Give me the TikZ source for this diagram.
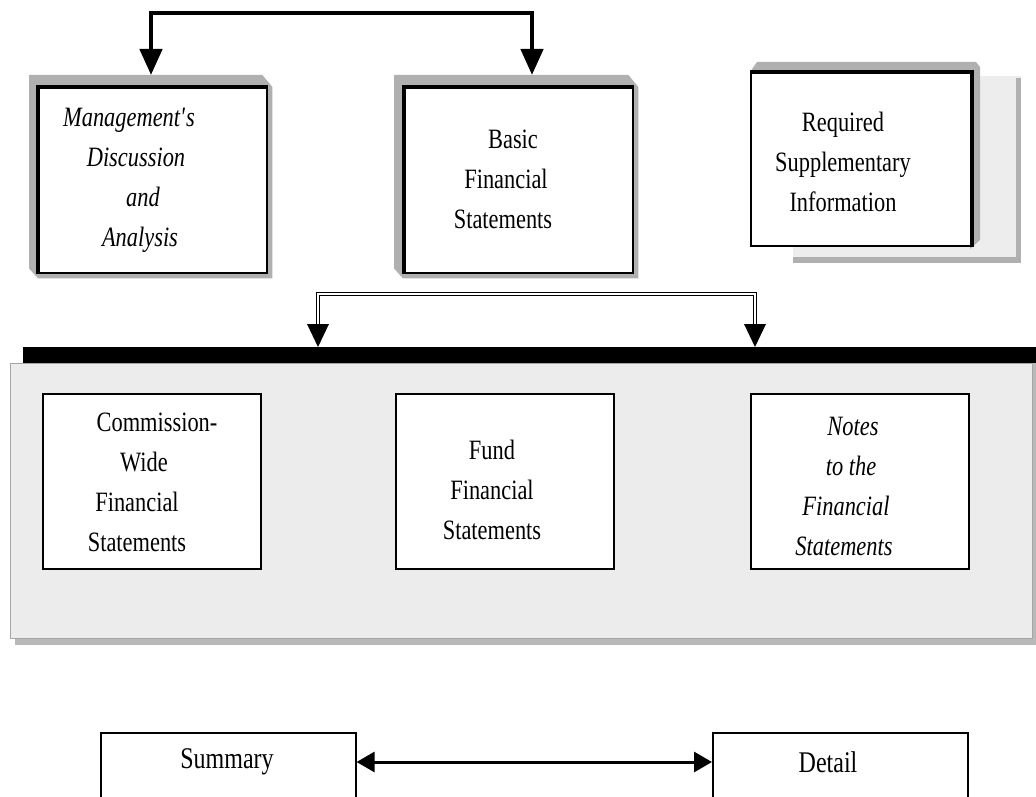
\documentclass[tikz,border=0pt]{standalone}
\usepackage{fontspec}
\setmainfont{Liberation Serif}[FakeStretch=0.8]
\usetikzlibrary{arrows.meta,calc}
\begin{document}
\begin{tikzpicture}[x=1pt,y=-1pt,
  bevel/.style={fill=gray!62},
  shadowlight/.style={fill=gray!14},
  plainbox/.style={draw=black,line width=1.6pt,fill=white,inner sep=0pt,anchor=north west},
  hidden/.style={inner sep=0pt,anchor=north west},
  txt/.style={align=center,inner sep=0pt,font=\fontsize{28}{40}\selectfont},
  itxt/.style={align=center,inner sep=0pt,font=\fontsize{28}{40}\selectfont\itshape},
  btxt/.style={align=center,inner sep=0pt,font=\fontsize{30}{36}\selectfont},
  heavy/.style={line width=4.5pt},
  dbl/.style={draw=black,double=white,double distance=2.4pt,line width=0.9pt},
  bigtip/.style={{Triangle[width=22pt,length=26pt]}-{Triangle[width=22pt,length=26pt]}},
  midtip/.style={{Triangle[width=20pt,length=18pt]}-{Triangle[width=20pt,length=18pt]}},
]
\useasboundingbox (0,0) rectangle (1036,797);
\begin{scope}
\clip (0,0) rectangle (1036,797);

% Management's Discussion and Analysis
\node[hidden,minimum width=243pt,minimum height=203pt] (mdaf) at (29,75) {};
\fill[bevel] (mdaf.north west) -- ($(mdaf.north east)+(-10,0)$) -- ($(mdaf.north east)+(0,12)$) -- (mdaf.south east) -- ($(mdaf.south west)+(9,0)$) -- ($(mdaf.south west)+(0,-10)$) -- cycle;
\node[plainbox,minimum width=228pt,minimum height=185pt] (mda) at (38,87) {};
\draw[line width=4pt] (mda.south west) -- (mda.north west) -- (mda.north east);
\node[itxt] (mdat) at (129,180) {Management\textquotesingle s\\\hspace*{14pt}Discussion\\\hspace*{28pt}and\\\hspace*{22pt}Analysis};

% Basic Financial Statements
\node[hidden,minimum width=244pt,minimum height=203pt] (basf) at (394,75) {};
\fill[bevel] (basf.north west) -- ($(basf.north east)+(-10,0)$) -- ($(basf.north east)+(0,12)$) -- (basf.south east) -- ($(basf.south west)+(9,0)$) -- ($(basf.south west)+(0,-10)$) -- cycle;
\node[plainbox,minimum width=228pt,minimum height=185pt] (bas) at (404,87) {};
\draw[line width=4pt] (bas.south west) -- (bas.north west) -- (bas.north east);
\node[txt] (bast) at (503,179) {\hspace*{20pt}Basic\\\hspace*{6pt}Financial\\Statements};

% top connector
\coordinate (tl) at (151,13);
\coordinate (tr) at (532,13);
\draw[heavy,bigtip] (mdaf.north -| tl) -- (tl) -- (tr) -- (basf.north -| tr);

% Required Supplementary Information
\fill[shadowlight] (793,76) rectangle (1021,263);
\fill[bevel] (1016,78) rectangle (1021,263);
\fill[bevel] (793,257) rectangle (1021,263);
\fill[bevel] (750,72) -- (757,62) -- (976,62) -- (980,67) -- (980,240) -- (970,249) -- (970,72) -- cycle;
\node[plainbox,minimum width=220pt,minimum height=173pt] (rsi) at (750,72) {};
\draw[line width=4pt] (rsi.north west) -- (rsi.north east) -- (rsi.south east);
\node[txt] (rsit) at (843,162) {Required\\Supplementary\\Information};

% panel
\fill[gray!55] (15,363) rectangle (1036,645);
\node[hidden,draw=gray!70,line width=1pt,fill=gray!15,minimum width=1022pt,minimum height=275pt] (panel) at (10,363) {};
\node[hidden,fill=black,minimum width=1013pt,minimum height=16pt] (bar) at (23,347) {};

% lower boxes
\node[plainbox,minimum width=218pt,minimum height=175pt] (cw) at (42,393) {};
\node[plainbox,minimum width=218pt,minimum height=175pt] (fund) at (395,393) {};
\node[plainbox,minimum width=218pt,minimum height=175pt] (notes) at (750,393) {};
\node[txt] (cwt) at (137,482) {\hspace*{40pt}Commission-\\\hspace*{14pt}Wide\\Financial\\Statements};
\node[txt] (fundt) at (492,490) {Fund\\Financial\\Statements};
\node[itxt] (notest) at (844,486) {\hspace*{18pt}Notes\\\hspace*{14pt}to the\\\hspace*{4pt}Financial\\Statements};

% double connector
\coordinate (dl) at (318,294);
\coordinate (dr) at (755,294);
\draw[dbl] ($(bar.north -| dl)+(0,-20)$) -- (dl) -- (dr) -- ($(bar.north -| dr)+(0,-20)$);
\fill (bar.north -| dl) -- ++(-11,-23) -- ++(22,0) -- cycle;
\fill (bar.north -| dr) -- ++(-11,-23) -- ++(22,0) -- cycle;

% bottom
\node[plainbox,minimum width=255pt,minimum height=80pt] (sum) at (100,732) {};
\node[plainbox,minimum width=255pt,minimum height=80pt] (det) at (712,732) {};
\node[btxt] (sumt) at (227,762) {Summary};
\node[btxt] (dett) at (828,762) {Detail};
\draw[line width=3pt,midtip] ($(sum.north east)+(0,30)$) -- ($(det.north west)+(0,30)$);
\end{scope}
\end{tikzpicture}
\end{document}
